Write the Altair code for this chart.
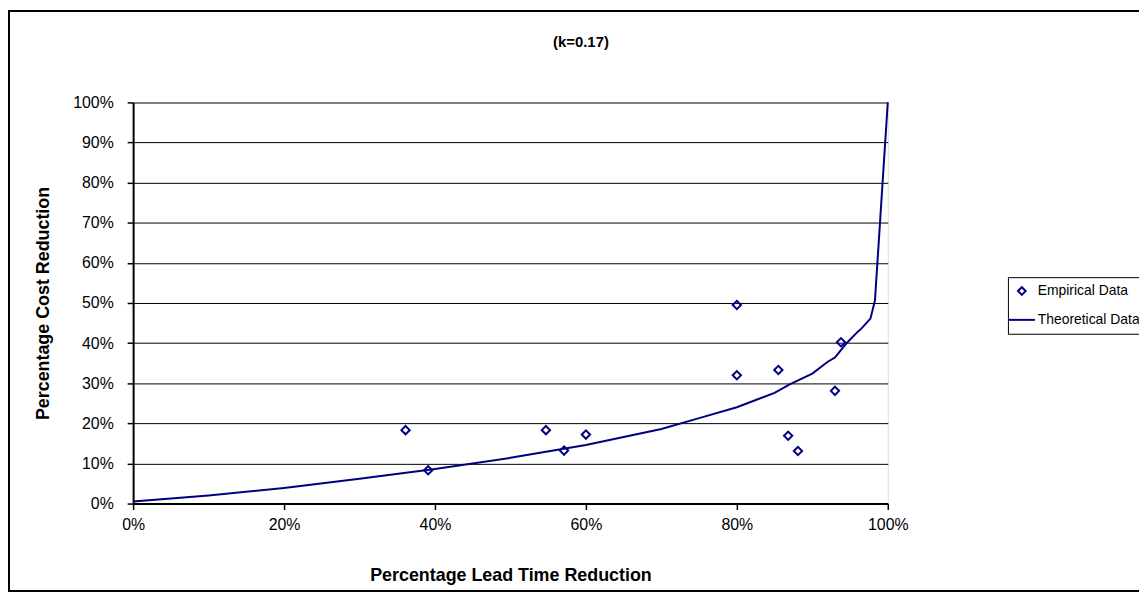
import altair as alt
import pandas as pd

# Empirical data (percent)
emp_x = [36.1, 39.1, 54.7, 57.1, 60.0, 80.0, 80.0, 85.5, 86.8, 88.1, 93.0, 93.8]
emp_y = [18.3, 8.3, 18.3, 13.2, 17.2, 49.5, 32.0, 33.3, 16.9, 13.1, 28.1, 40.2]

# Theoretical curve (percent)
theo_x = [0, 10, 20, 30, 40, 50, 60, 70, 75, 80, 85, 87, 90, 92, 93, 94.5, 96, 96.5, 97.7, 98.3, 100]
theo_y = [0.5, 2.0, 3.9, 6.2, 8.6, 11.4, 14.6, 18.6, 21.3, 24.0, 27.6, 29.7, 32.4, 35.3, 36.4, 39.9, 42.8, 43.6, 46.1, 50.6, 100]

series = ["Empirical Data", "Theoretical Data"]
title_text = "(k=0.17)"
x_title = "Percentage Lead Time Reduction"
y_title = "Percentage Cost Reduction"

NAVY = "#000080"
FONT = "Liberation Sans"

emp = pd.DataFrame({"x": emp_x, "y": emp_y, "series": series[0]})
theo = pd.DataFrame({"x": theo_x, "y": theo_y, "series": series[1]})

xscale = alt.Scale(domain=[0, 100], nice=False, zero=False)
yscale = alt.Scale(domain=[0, 100], nice=False, zero=False)

xaxis = alt.Axis(values=[0, 20, 40, 60, 80, 100], labelExpr="datum.value + '%'",
                 title=x_title, grid=False, domainColor="black", domainWidth=2,
                 labelFlush=False, labelOverlap=False,
                 tickColor="black", tickSize=6, tickWidth=1.5, labelPadding=7,
                 labelFontSize=16, labelFont=FONT, labelColor="black",
                 titleFont=FONT, titleFontSize=18, titleFontWeight="bold",
                 titleColor="black", titlePadding=34)
yaxis = alt.Axis(values=list(range(0, 101, 10)), labelExpr="datum.value + '%'",
                 title=y_title, grid=True, labelFlush=False, labelOverlap=False,
                 gridColor={"condition": {"test": "datum.value >= 100", "value": "#808080"}, "value": "black"},
                 gridWidth={"condition": {"test": "datum.value >= 100", "value": 2}, "value": 1},
                 domainColor="black", domainWidth=2,
                 tickColor="black", tickSize=6, tickWidth=1.5, labelPadding=14,
                 labelFontSize=16, labelFont=FONT, labelColor="black",
                 titleFont=FONT, titleFontSize=18, titleFontWeight="bold",
                 titleColor="black", titlePadding=20)

line = alt.Chart(theo).mark_line(color=NAVY, strokeWidth=2).encode(
    x=alt.X("x:Q", scale=xscale, axis=xaxis),
    y=alt.Y("y:Q", scale=yscale, axis=yaxis),
    order="x:Q",
)

points = alt.Chart(emp).mark_point(shape="diamond", filled=False, color=NAVY,
                                   strokeWidth=2, size=70, opacity=1).encode(
    x=alt.X("x:Q", scale=xscale),
    y=alt.Y("y:Q", scale=yscale),
    shape=alt.Shape("series:N",
                    scale=alt.Scale(domain=series, range=["diamond", "M-3.4,0L3.4,0"]),
                    legend=alt.Legend(title=None, orient="none", legendX=881, legendY=176,
                                      strokeColor="black", padding=7,
                                      labelFont=FONT, labelFontSize=14, labelColor="black",
                                      labelOffset=9, rowPadding=14,
                                      symbolSize=60, symbolStrokeColor=NAVY,
                                      symbolFillColor="transparent", symbolStrokeWidth=2)),
)

title = alt.Chart(pd.DataFrame({"t": [title_text]})).mark_text(
    font=FONT, fontSize=15, fontWeight="bold", color="black", align="center", baseline="middle"
).encode(text="t:N", x=alt.value(451), y=alt.value(-61))

border = alt.Chart(pd.DataFrame({"a": [0]})).mark_rect(
    fill="transparent", stroke="black", strokeWidth=2).encode(
    x=alt.value(-125), x2=alt.value(1030), y=alt.value(-92), y2=alt.value(492))

chart = alt.layer(border, line, points, title).properties(
    width=760, height=404,
    autosize=alt.AutoSizeParams(type="none"),
    padding={"left": 126, "top": 93, "right": 253, "bottom": 89},
).configure_view(stroke="#808080", strokeWidth=2).configure(background="white")

chart.save("out.html", embed_options={"renderer": "svg", "actions": False})
